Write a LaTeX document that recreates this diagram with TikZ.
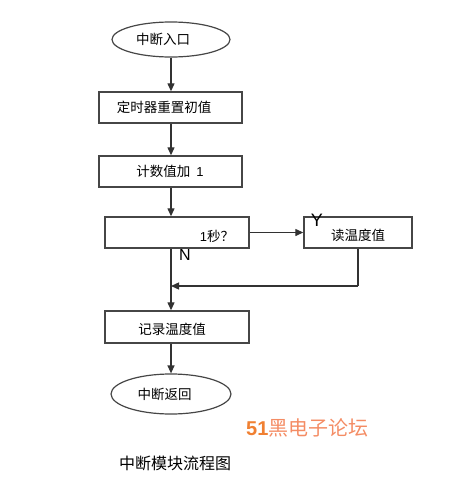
\documentclass[tikz,border=0pt]{standalone}
\usepackage{fontspec}
\setmainfont{Liberation Sans}
\newfontfamily\cjk{Noto Sans CJK SC}
\usetikzlibrary{shapes.geometric,arrows.meta}
\definecolor{edge}{RGB}{70,70,70}
\definecolor{lineg}{RGB}{50,50,50}
\definecolor{wmA}{RGB}{240,128,50}
\definecolor{wmB}{RGB}{244,140,100}
\tikzset{
  procbox/.style={draw=edge, line width=1.4pt, rectangle, inner sep=0pt, minimum height=31pt},
  oval/.style={draw=edge, line width=1.2pt, ellipse, inner sep=0pt},
  txt/.style={inner sep=0pt, font=\cjk\fontsize{13.5}{14}\selectfont},
  flow/.style={draw=lineg, line width=1.3pt, -{Triangle[length=8pt,width=7pt]}},
  plain/.style={draw=lineg, line width=1.3pt},
}
\begin{document}
\begin{tikzpicture}[x=1pt,y=-1pt]
\useasboundingbox (0,0) rectangle (450,485);
% shapes
\node[oval, minimum width=118pt, minimum height=35pt] (e1) at (171,39.5) {};
\node[procbox, minimum width=143pt] (b1) at (170.5,107.5) {};
\node[procbox, minimum width=143pt] (b2) at (170.5,171.5) {};
\node[procbox, minimum width=144pt] (d) at (177,232.5) {};
\node[procbox, minimum width=108pt] (r) at (358,232.5) {};
\node[procbox, minimum width=144pt, minimum height=32pt] (b4) at (177,327) {};
\node[oval, minimum width=120pt, minimum height=40pt] (e2) at (171,394) {};
% texts
\node[txt] (t1) at (163,39.5) {中断入口};
\node[txt] (t2) at (164,107.5) {定时器重置初值};
\node[txt] (t3) at (170,171.5) {计数值加\ \ {\rmfamily\fontsize{13}{14}\selectfont 1}};
\node[txt] (t4) at (217,236) {{\rmfamily\fontsize{13}{14}\selectfont 1}秒？};
\node[txt] (t5) at (358,235) {读温度值};
\node[txt] (t6) at (172,329) {记录温度值};
\node[txt] (t7) at (164.5,394) {中断返回};
\node[inner sep=0pt, font=\fontsize{18}{18}\selectfont] (ly) at (317,220) {Y};
\node[inner sep=0pt, font=\fontsize{16}{16}\selectfont] (ln) at (185,255) {N};
\node[inner sep=0pt, anchor=west] (wm) at (246,428) {{\color{wmA}\bfseries\fontsize{20}{20}\selectfont 51}{\cjk\color{wmB}\fontsize{20}{20}\selectfont 黑电子论坛}};
\node[inner sep=0pt, font=\cjk\fontsize{16}{16}\selectfont] (cap) at (175,463) {中断模块流程图};
% connectors
\coordinate (m) at (171,286);
\draw[flow] (e1.south) -- (e1.south |- b1.north);
\draw[flow] (e1.south |- b1.south) -- (e1.south |- b2.north);
\draw[flow] (e1.south |- b2.south) -- (e1.south |- d.north);
\draw[flow] (d.east) -- (r.west);
\draw[plain] (r.south) -- (r.south |- m);
\draw[flow] (r.south |- m) -- (m);
\draw[flow] (e1.south |- d.south) -- (e1.south |- b4.north);
\draw[flow] (e1.south |- b4.south) -- (e2.north);
\end{tikzpicture}
\end{document}
